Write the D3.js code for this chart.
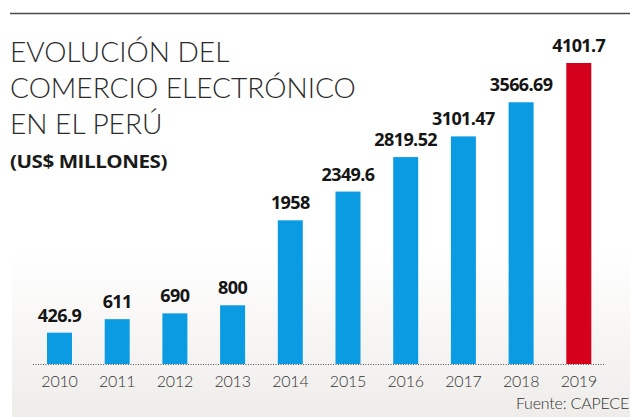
<!DOCTYPE html>
<html><head><meta charset="utf-8">
<script src="https://cdn.jsdelivr.net/npm/d3@7"></script>
<style>html,body{margin:0;padding:0;background:#fff;}svg{display:block;}</style>
</head><body>
<svg id="c" width="630" height="417"></svg>
<script>
const years = ["2010","2011","2012","2013","2014","2015","2016","2017","2018","2019"];
const values = [426.9, 611, 690, 800, 1958, 2349.6, 2819.52, 3101.47, 3566.69, 4101.7];
const valueLabels = ["426.9","611","690","800","1958","2349.6","2819.52","3101.47","3566.69","4101.7"];
const titleLines = ["EVOLUCIÓN DEL","COMERCIO ELECTRÓNICO","EN EL PERÚ"];
const subtitle = "(US$ MILLONES)";
const source = "Fuente: CAPECE";

const svg = d3.select("#c");
const defs = svg.append("defs");
const g = defs.append("linearGradient").attr("id","bg").attr("x1",0).attr("y1",0).attr("x2",0).attr("y2",1);
g.append("stop").attr("offset","0%").attr("stop-color","#ffffff");
g.append("stop").attr("offset","58%").attr("stop-color","#ffffff");
g.append("stop").attr("offset","100%").attr("stop-color","#efedea");
svg.append("rect").attr("x",12).attr("y",20).attr("width",618).attr("height",397).attr("fill","url(#bg)");

svg.append("line").attr("x1",10).attr("x2",630).attr("y1",13.5).attr("y2",13.5)
  .attr("stroke","#4a4a4a").attr("stroke-width",1.5);

// title: horizontally stretched light font to match the wide reference face
const tg = svg.append("g");
const titles = tg.selectAll("text.title").data(titleLines).join("text").attr("class","title")
  .attr("x",0).attr("y",(d,i)=>62+i*36)
  .attr("font-family","Lato").attr("font-weight",300).attr("font-size",28)
  .attr("fill","#2a2a2a").text(d=>d);
{
  const w = titles.nodes()[1].getComputedTextLength();
  tg.attr("transform", `translate(10,0) scale(${346/w},1)`);
}

const sg = svg.append("g");
const sub = sg.append("text").attr("x",0).attr("y",168)
  .attr("font-family","'Open Sans'").attr("font-weight",700).attr("font-size",18)
  .attr("fill","#1a1a1a").attr("letter-spacing",-0.4).text(subtitle);
{
  const w = sub.node().getComputedTextLength();
  sg.attr("transform", `translate(10,0) scale(${157/w},1)`);
}

const x = d3.scaleBand().domain(years).range([30.65, 607.65]).paddingInner(0.567).paddingOuter(0.2835);
const y = d3.scaleLinear().domain([0, 4101.7]).range([364, 63]);

svg.selectAll("rect.bar").data(values).join("rect").attr("class","bar")
  .attr("x",(d,i)=>x(years[i])).attr("width",x.bandwidth())
  .attr("y",d=>y(d)).attr("height",d=>y(0)-y(d))
  .attr("fill",(d,i)=>i===years.length-1?"#d5001c":"#0a9be3");

svg.append("line").attr("x1",33).attr("x2",605).attr("y1",364.5).attr("y2",364.5)
  .attr("stroke","#555").attr("stroke-width",1).attr("stroke-dasharray","1,1.5");

svg.selectAll("text.val").data(values).join("text").attr("class","val")
  .attr("x",(d,i)=>x(years[i])+x.bandwidth()/2).attr("y",d=>y(d)-11)
  .attr("text-anchor","middle")
  .attr("font-family","'Open Sans'").attr("font-weight",700).attr("font-size",18)
  .attr("fill","#151515").attr("letter-spacing",-0.6).text((d,i)=>valueLabels[i]);

const xAxis = d3.axisBottom(x).tickSize(0).tickPadding(0);
const ax = svg.append("g").attr("transform","translate(0,372)").call(xAxis);
ax.select(".domain").remove();
ax.selectAll("text").attr("font-family","Lato").attr("font-weight",300)
  .attr("font-size",16).attr("fill","#333").attr("letter-spacing",-0.2).attr("dy","0.95em");

const src = svg.append("text").attr("x",629).attr("y",409).attr("text-anchor","end")
  .attr("font-family","Lato").attr("font-weight",300).attr("font-size",16)
  .attr("fill","#333").attr("letter-spacing",-0.2).text(source);
</script>
</body></html>
